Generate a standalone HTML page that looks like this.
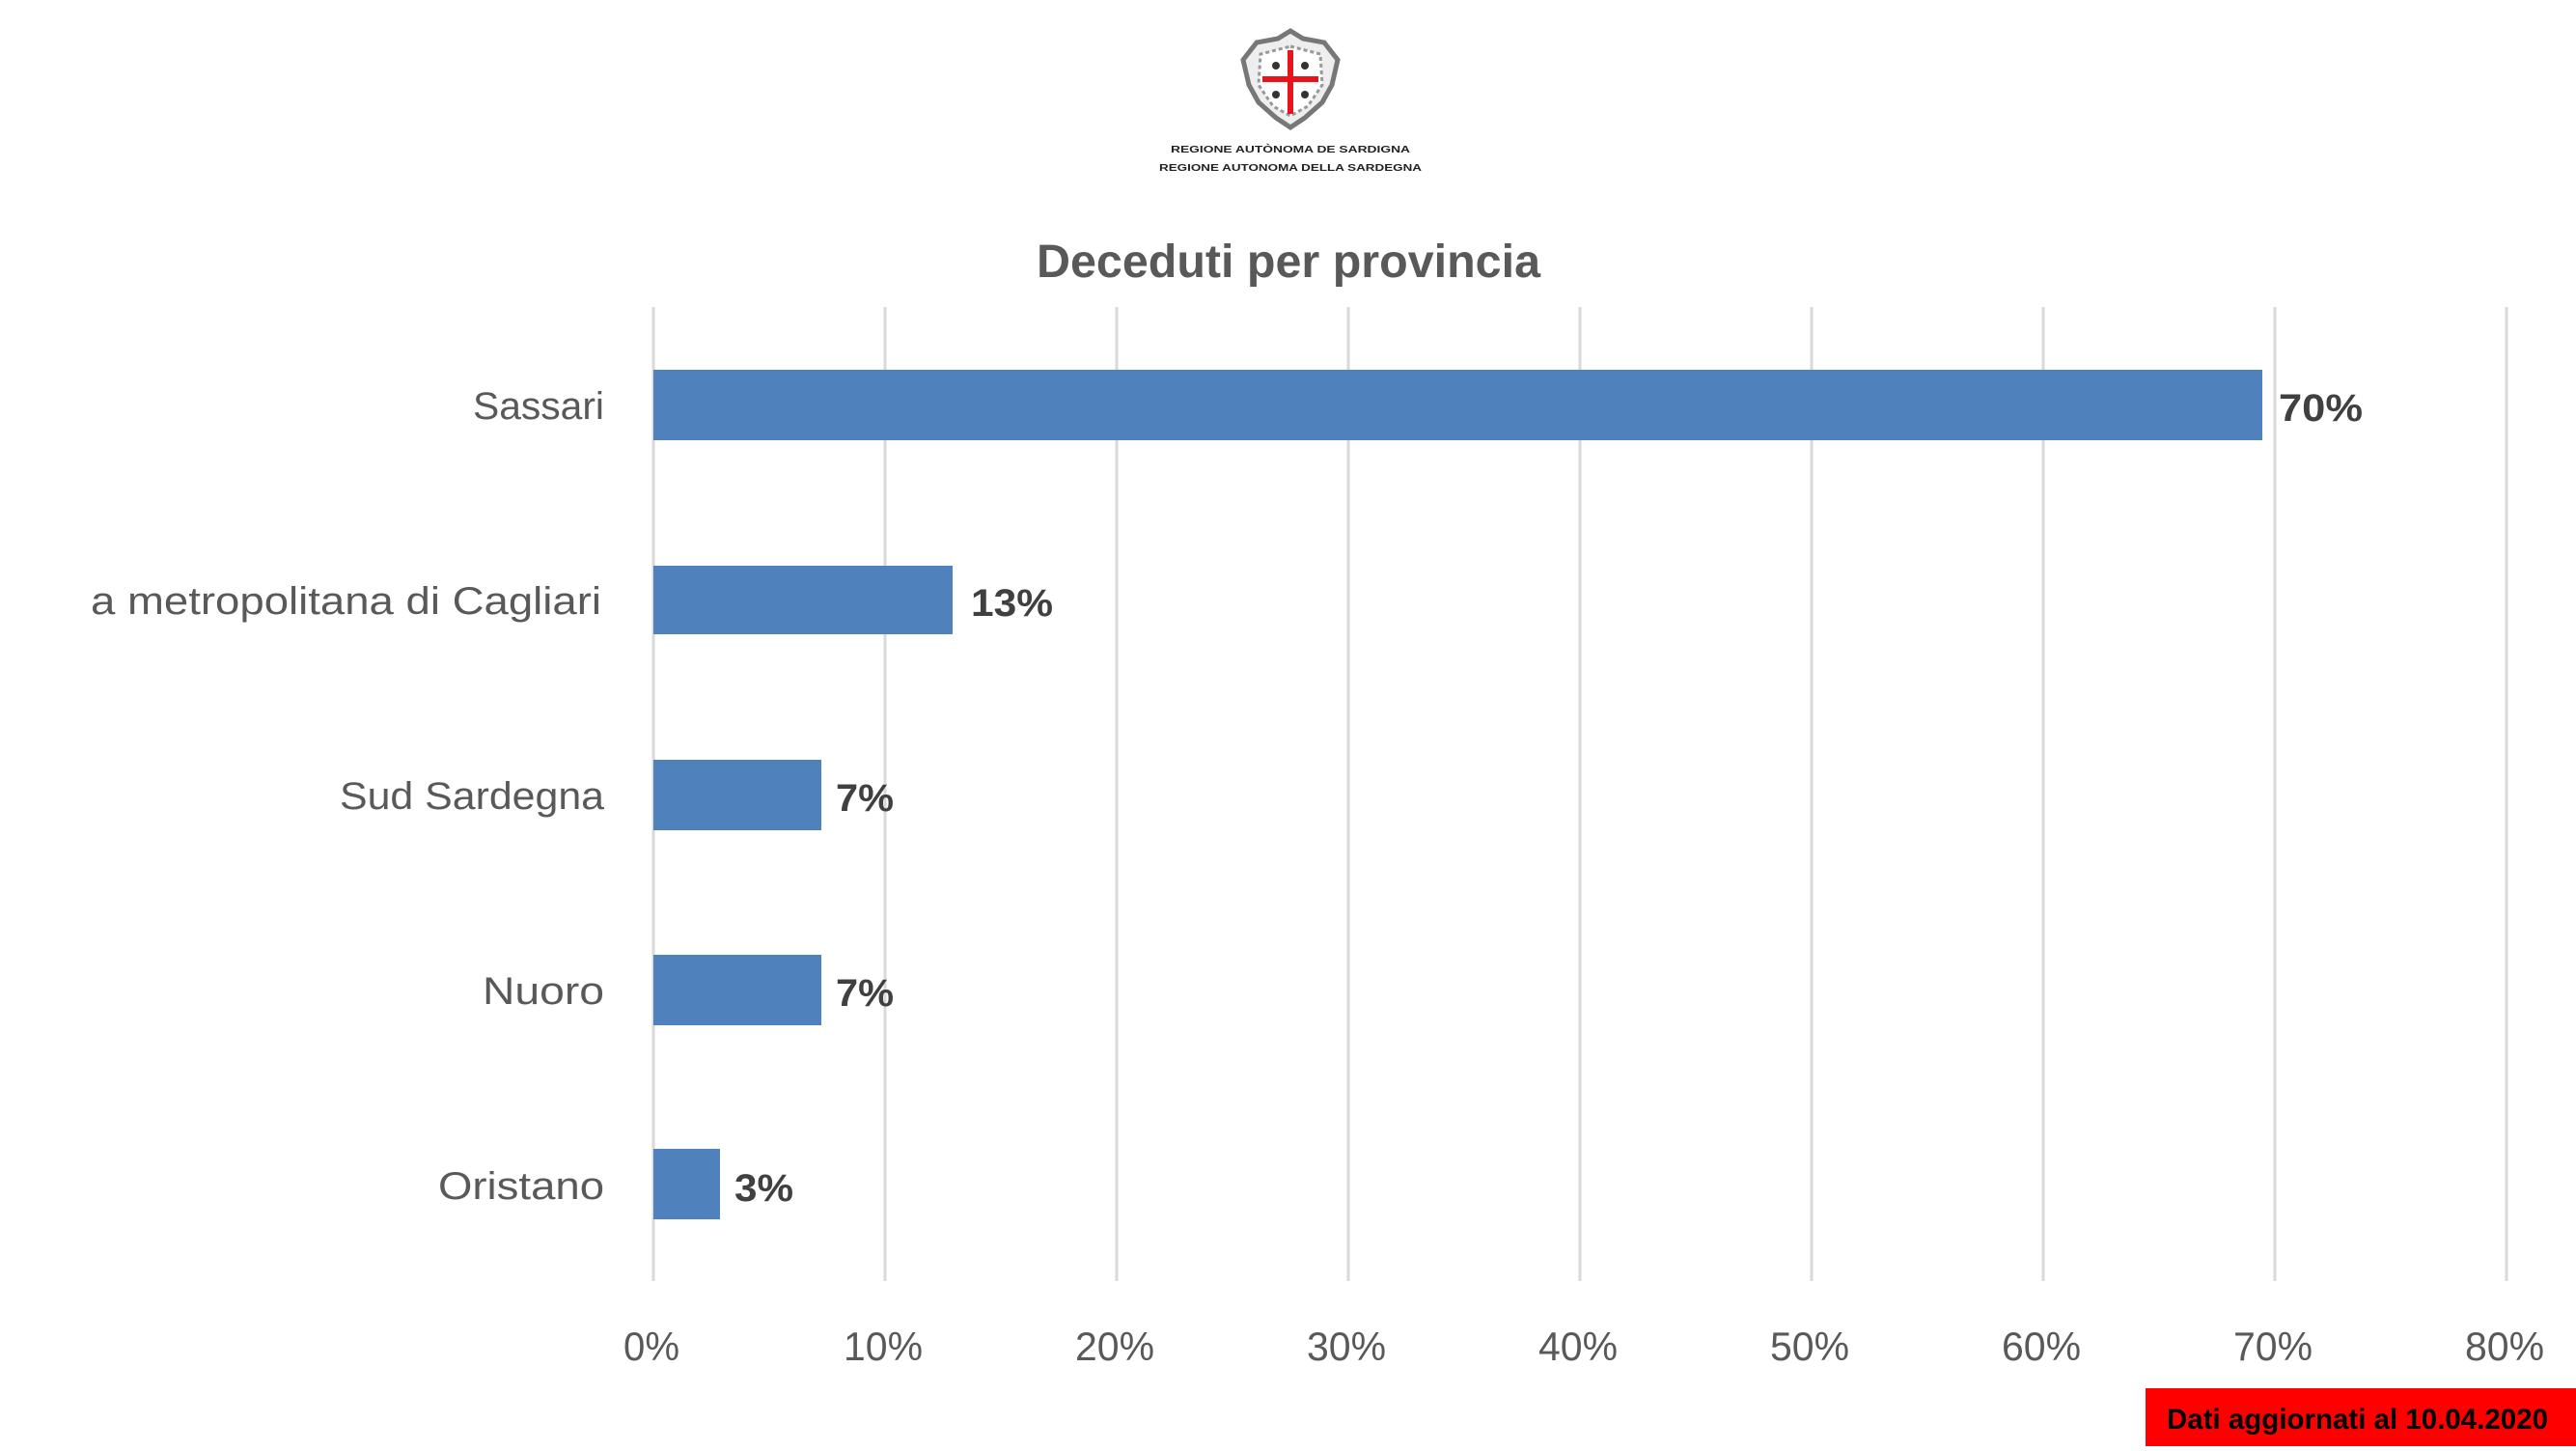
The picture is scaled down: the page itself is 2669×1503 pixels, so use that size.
<!DOCTYPE html>
<html><head><meta charset="utf-8"><style>
html,body{margin:0;padding:0;background:#fff;}
svg{display:block;}
text{font-family:"Liberation Sans",sans-serif;}
</style></head><body>
<svg width="2669" height="1503" viewBox="0 0 2669 1503" xmlns="http://www.w3.org/2000/svg">
<rect width="2669" height="1503" fill="#fff"/>
<!-- logo -->
<g>
  <path d="M1337 32 L1350 40 L1372 44 L1386 62 L1380 88 L1370 106 L1352 122 L1337 132 L1322 122 L1304 106 L1294 88 L1288 62 L1302 44 L1324 40 Z" fill="#eee" stroke="#777" stroke-width="5"/>
  <path d="M1337 48 L1368 56 L1370 88 L1355 110 L1337 120 L1319 110 L1304 88 L1306 56 Z" fill="#fff" stroke="#999" stroke-width="3" stroke-dasharray="4 3"/>
  <rect x="1334" y="52" width="6" height="66" fill="#e8141c"/>
  <rect x="1308" y="79" width="58" height="6" fill="#e8141c"/>
  <circle cx="1322" cy="68" r="4" fill="#333"/><circle cx="1352" cy="68" r="4" fill="#333"/>
  <circle cx="1322" cy="98" r="4" fill="#333"/><circle cx="1352" cy="98" r="4" fill="#333"/>
  <text x="1337" y="158" font-size="10" font-weight="bold" fill="#222" text-anchor="middle" textLength="248" lengthAdjust="spacingAndGlyphs">REGIONE AUTÒNOMA DE SARDIGNA</text>
  <text x="1337" y="177" font-size="10" font-weight="bold" fill="#222" text-anchor="middle" textLength="272" lengthAdjust="spacingAndGlyphs">REGIONE AUTONOMA DELLA SARDEGNA</text>
</g>
<!-- title -->
<text x="1074" y="287" font-size="48" font-weight="bold" fill="#595959" textLength="522" lengthAdjust="spacingAndGlyphs">Deceduti per provincia</text>
<!-- gridlines -->
<g stroke="#d9d9d9" stroke-width="3">
  <line x1="677" y1="318" x2="677" y2="1327"/>
  <line x1="917" y1="318" x2="917" y2="1327"/>
  <line x1="1157" y1="318" x2="1157" y2="1327"/>
  <line x1="1397" y1="318" x2="1397" y2="1327"/>
  <line x1="1637" y1="318" x2="1637" y2="1327"/>
  <line x1="1877" y1="318" x2="1877" y2="1327"/>
  <line x1="2117" y1="318" x2="2117" y2="1327"/>
  <line x1="2357" y1="318" x2="2357" y2="1327"/>
  <line x1="2597" y1="318" x2="2597" y2="1327"/>
</g>
<!-- bars -->
<g fill="#4f81bd">
  <rect x="677" y="383" width="1667" height="73"/>
  <rect x="677" y="586" width="310" height="71"/>
  <rect x="677" y="787" width="174" height="73"/>
  <rect x="677" y="989" width="174" height="73"/>
  <rect x="677" y="1190" width="69" height="73"/>
</g>
<!-- category labels -->
<g font-size="40" fill="#595959">
  <text x="490" y="434" textLength="136" lengthAdjust="spacingAndGlyphs">Sassari</text>
  <text x="94" y="636" textLength="529" lengthAdjust="spacingAndGlyphs">a metropolitana di Cagliari</text>
  <text x="352" y="838" textLength="274" lengthAdjust="spacingAndGlyphs">Sud Sardegna</text>
  <text x="500" y="1040" textLength="126" lengthAdjust="spacingAndGlyphs">Nuoro</text>
  <text x="454" y="1242" textLength="172" lengthAdjust="spacingAndGlyphs">Oristano</text>
</g>
<!-- value labels -->
<g font-size="40" font-weight="bold" fill="#404040">
  <text x="2361" y="436" textLength="87" lengthAdjust="spacingAndGlyphs">70%</text>
  <text x="1006" y="638" textLength="85" lengthAdjust="spacingAndGlyphs">13%</text>
  <text x="866" y="840" textLength="60" lengthAdjust="spacingAndGlyphs">7%</text>
  <text x="866" y="1042" textLength="60" lengthAdjust="spacingAndGlyphs">7%</text>
  <text x="761" y="1244" textLength="61" lengthAdjust="spacingAndGlyphs">3%</text>
</g>
<!-- tick labels -->
<g font-size="42" fill="#595959" text-anchor="middle">
  <text x="675" y="1409" textLength="58" lengthAdjust="spacingAndGlyphs">0%</text>
  <text x="915" y="1409" textLength="82" lengthAdjust="spacingAndGlyphs">10%</text>
  <text x="1155" y="1409" textLength="82" lengthAdjust="spacingAndGlyphs">20%</text>
  <text x="1395" y="1409" textLength="82" lengthAdjust="spacingAndGlyphs">30%</text>
  <text x="1635" y="1409" textLength="82" lengthAdjust="spacingAndGlyphs">40%</text>
  <text x="1875" y="1409" textLength="82" lengthAdjust="spacingAndGlyphs">50%</text>
  <text x="2115" y="1409" textLength="82" lengthAdjust="spacingAndGlyphs">60%</text>
  <text x="2355" y="1409" textLength="82" lengthAdjust="spacingAndGlyphs">70%</text>
  <text x="2595" y="1409" textLength="82" lengthAdjust="spacingAndGlyphs">80%</text>
</g>
<!-- red box -->
<rect x="2223" y="1438" width="446" height="60" fill="#ff0000"/>
<text x="2245" y="1480" font-size="30" font-weight="bold" fill="#000" textLength="395" lengthAdjust="spacingAndGlyphs">Dati aggiornati al 10.04.2020</text>
</svg>
</body></html>
